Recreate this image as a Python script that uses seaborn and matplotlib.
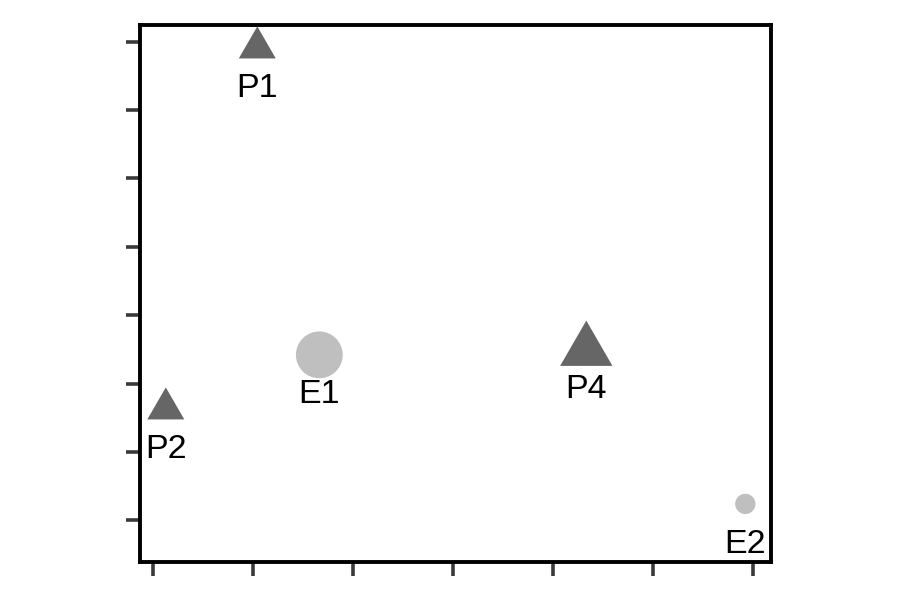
import matplotlib
matplotlib.use("Agg")
import matplotlib.pyplot as plt
import pandas as pd
import seaborn as sns


labels = ["P1", "P2", "P4", "E1", "E2"]
kind   = ["P", "P", "P", "E", "E"]
x_vals = [1.04, 0.125, 4.33, 1.66, 5.92]
y_vals = [6.99, 1.71, 2.59, 2.42, 0.24]
weight = [1.0, 1.0, 2.0, 1.6, 0.3]

x_ticks = [0, 1, 2, 3, 4, 5, 6]
y_ticks = [0, 1, 2, 3, 4, 5, 6, 7]

df = pd.DataFrame({"label": labels, "kind": kind, "x": x_vals, "y": y_vals, "weight": weight})

sns.set_style("ticks")
plt.rcParams['font.family'] = ['Liberation Sans', 'DejaVu Sans']

fig = plt.figure(figsize=(9, 6), dpi=100)
ax = fig.add_axes([0.155, 0.0633, 0.702, 0.8945])

# equilateral triangle marker
tri = [(0, 0.866), (-1, -0.866), (1, -0.866)]

sns.scatterplot(data=df, x="x", y="y", hue="kind", style="kind", size="weight",
                palette={"P": "#666666", "E": "#bfbfbf"},
                markers={"P": tri, "E": "o"},
                sizes=(0, 1420), size_norm=(0, 2.0),
                linewidth=0, legend=False, ax=ax, zorder=3)

# label offsets below the marker (points)
offset = {"P": 39.6, "E": 35.0}
for _, r in df.iterrows():
    ax.annotate(r["label"], (r["x"], r["y"]), xytext=(0, -offset[r["kind"]]),
                textcoords="offset points", ha="center", va="baseline",
                fontsize=24.5, color="black")

ax.set_xlim(-0.138, 6.18)
ax.set_ylim(-0.61, 7.24)
ax.set_xticks(x_ticks)
ax.set_yticks(y_ticks)
ax.set_xticklabels([])
ax.set_yticklabels([])
ax.set_xlabel("")
ax.set_ylabel("")

for s in ax.spines.values():
    s.set_visible(True)
    s.set_color("black")
    s.set_linewidth(2.8)
ax.tick_params(direction="out", length=9.8, width=2.6, color="#3a3a3a")

plt.savefig("out.png", dpi=100)
plt.close()
